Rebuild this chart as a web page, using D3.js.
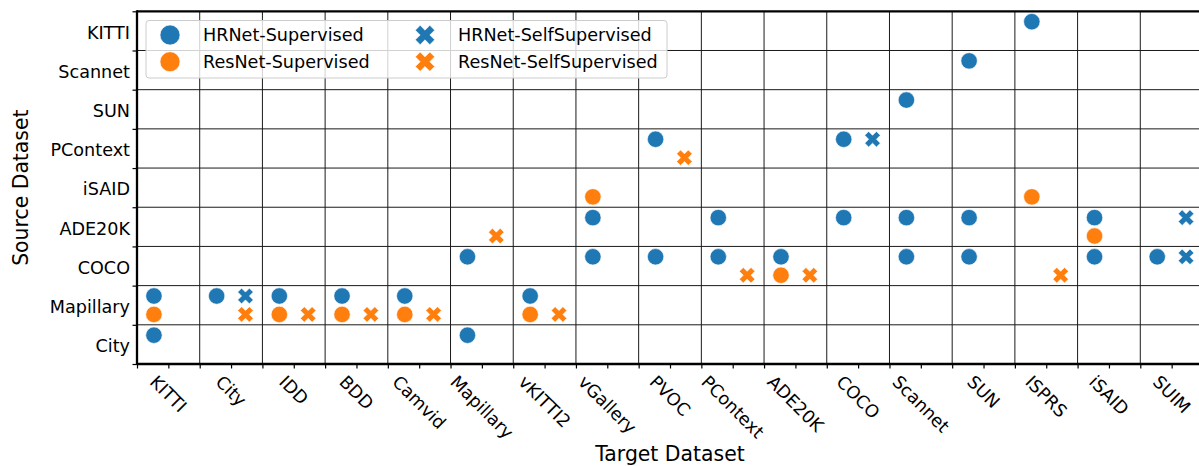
<!DOCTYPE html>
<html>
<head>
<meta charset="utf-8">
<script src="https://cdnjs.cloudflare.com/ajax/libs/d3/7.8.5/d3.min.js"></script>
<style>
  body { margin: 0; background: #fff; }
  svg { display: block; font-family: "DejaVu Sans", sans-serif; }
</style>
</head>
<body>
<svg id="chart" width="1199" height="466"></svg>
<script>
// categories
var targets = ["KITTI", "City", "IDD", "BDD", "Camvid", "Mapillary", "vKITTI2", "vGallery", "PVOC",
  "PContext", "ADE20K", "COCO", "Scannet", "SUN", "ISPRS", "iSAID", "SUIM"];
var sources = ["City", "Mapillary", "COCO", "ADE20K", "iSAID", "PContext", "SUN", "Scannet", "KITTI"]; // bottom -> top

// [target, source] pairs per series
var hrnetSupervised = [["KITTI", "Mapillary"], ["KITTI", "City"], ["City", "Mapillary"], ["IDD", "Mapillary"],
  ["BDD", "Mapillary"], ["Camvid", "Mapillary"], ["Mapillary", "COCO"], ["Mapillary", "City"],
  ["vKITTI2", "Mapillary"], ["vGallery", "ADE20K"], ["vGallery", "COCO"], ["PVOC", "PContext"],
  ["PVOC", "COCO"], ["PContext", "ADE20K"], ["PContext", "COCO"], ["ADE20K", "COCO"], ["COCO", "ADE20K"],
  ["COCO", "PContext"], ["Scannet", "SUN"], ["Scannet", "ADE20K"], ["Scannet", "COCO"], ["SUN", "Scannet"],
  ["SUN", "ADE20K"], ["SUN", "COCO"], ["ISPRS", "KITTI"], ["iSAID", "ADE20K"], ["iSAID", "COCO"], ["SUIM", "COCO"]];
var resnetSupervised = [["KITTI", "Mapillary"], ["IDD", "Mapillary"], ["BDD", "Mapillary"], ["Camvid", "Mapillary"],
  ["vKITTI2", "Mapillary"], ["vGallery", "iSAID"], ["ADE20K", "COCO"], ["ISPRS", "iSAID"], ["iSAID", "ADE20K"]];
var hrnetSelf = [["City", "Mapillary"], ["COCO", "PContext"], ["SUIM", "ADE20K"], ["SUIM", "COCO"]];
var resnetSelf = [["City", "Mapillary"], ["IDD", "Mapillary"], ["BDD", "Mapillary"], ["Camvid", "Mapillary"],
  ["Mapillary", "ADE20K"], ["vKITTI2", "Mapillary"], ["PVOC", "PContext"], ["PContext", "COCO"],
  ["ADE20K", "COCO"], ["ISPRS", "COCO"]];

var blue = "#1f77b4", orange = "#ff7f0e";
var series = [
  { name: "HRNet-Supervised", data: hrnetSupervised, color: blue, shape: "circle", dx: -1, dy: -1 },
  { name: "ResNet-Supervised", data: resnetSupervised, color: orange, shape: "circle", dx: -1, dy: 1 },
  { name: "HRNet-SelfSupervised", data: hrnetSelf, color: blue, shape: "x", dx: 1, dy: -1 },
  { name: "ResNet-SelfSupervised", data: resnetSelf, color: orange, shape: "x", dx: 1, dy: 1 }
];

var plotL = 137, plotR = 1203, plotT = 11.3, plotB = 364;
var svg = d3.select("#chart");

var x = d3.scaleBand().domain(targets).range([plotL, plotR]).padding(0);
var y = d3.scaleBand().domain(sources.slice().reverse()).range([plotT, plotB]).padding(0);
var xl = d3.scaleLinear().domain([0, targets.length]).range([plotL, plotR]);
var yl = d3.scaleLinear().domain([0, sources.length]).range([plotB, plotT]);

// X marker path (matplotlib "X")
function xPath(size) {
  var a = size / 2, b = size / 6;
  var pts = [[b, a], [b, b], [a, b], [a, -b], [b, -b], [b, -a], [-b, -a], [-b, -b], [-a, -b], [-a, b], [-b, b], [-b, a]];
  var c = Math.SQRT1_2;
  return "M" + pts.map(function (p) { return [(p[0] - p[1]) * c, (p[0] + p[1]) * c].join(","); }).join("L") + "Z";
}

// grid
var grid = svg.append("g").attr("stroke", "#1a1a1a").attr("stroke-width", 1);
d3.range(1, targets.length).forEach(function (i) {
  grid.append("line").attr("x1", xl(i)).attr("x2", xl(i)).attr("y1", plotT).attr("y2", plotB);
});
d3.range(1, sources.length).forEach(function (i) {
  grid.append("line").attr("x1", plotL).attr("x2", plotR).attr("y1", yl(i)).attr("y2", yl(i));
});

// axes ticks
var fs = 17.6;
svg.append("g").attr("transform", "translate(0," + plotB + ")")
  .call(d3.axisBottom(xl).tickValues(d3.range(0, targets.length + 0.01, 0.5)).tickSize(4.5).tickFormat(""))
  .call(function (g) { g.select(".domain").remove(); g.selectAll("line").attr("stroke", "#000").attr("stroke-width", 1.2); });
svg.append("g").attr("transform", "translate(" + plotL + ",0)")
  .call(d3.axisLeft(yl).tickValues(d3.range(0, sources.length + 1)).tickSize(4.5).tickFormat(""))
  .call(function (g) { g.select(".domain").remove(); g.selectAll("line").attr("stroke", "#000").attr("stroke-width", 1.2); });

// y tick labels
svg.append("g").selectAll("text").data(sources).enter().append("text")
  .attr("x", 130).attr("y", function (d) { return y(d) + y.bandwidth() / 2 + 7.8; })
  .attr("text-anchor", "end").attr("font-size", fs).attr("fill", "#000")
  .text(function (d) { return d; });

// x tick labels rotated 45 deg, bbox centered on tick
var xlab = svg.append("g").selectAll("text").data(targets).enter().append("text")
  .attr("text-anchor", "middle").attr("font-size", fs).attr("fill", "#000").attr("dy", "0.346em")
  .text(function (d) { return d; });
xlab.each(function (d) {
  var w = this.getComputedTextLength(), h = fs * 1.164;
  var s = (w + h) / Math.SQRT2;
  var cx = x(d) + x.bandwidth() / 2, cy = 371.5 + s / 2;
  d3.select(this).attr("x", cx).attr("y", cy).attr("transform", "rotate(45," + cx + "," + cy + ")");
});

// points
series.forEach(function (s) {
  var g = svg.append("g");
  g.selectAll("path").data(s.data).enter().append("path")
    .attr("fill", s.color).attr("stroke", "#fff").attr("stroke-width", 0.6)
    .attr("transform", function (d) {
      var px = x(d[0]) + x.bandwidth() * (0.5 + s.dx * 0.23);
      var py = y(d[1]) + y.bandwidth() * (0.5 + s.dy * 0.235);
      return "translate(" + px + "," + py + ")";
    })
    .attr("d", s.shape === "circle" ? d3.symbol(d3.symbolCircle, Math.PI * 8.2 * 8.2)() : xPath(16.5));
});

// spines
var sp = svg.append("g").attr("stroke", "#000").attr("stroke-width", 2.3).attr("fill", "none");
sp.append("line").attr("x1", plotL).attr("x2", plotL).attr("y1", plotT - 1.1).attr("y2", plotB + 1.1);
sp.append("line").attr("x1", plotL).attr("x2", plotR + 2).attr("y1", plotB).attr("y2", plotB);
sp.append("line").attr("x1", plotL).attr("x2", plotR + 2).attr("y1", plotT).attr("y2", plotT);

// axis titles
svg.append("text").attr("x", (plotL + plotR) / 2).attr("y", 461).attr("text-anchor", "middle")
  .attr("font-size", 20.4).text("Target Dataset");
svg.append("text").attr("transform", "translate(28," + (plotT + plotB) / 2 + ") rotate(-90)")
  .attr("text-anchor", "middle").attr("font-size", 20.4).text("Source Dataset");

// legend
var lg = svg.append("g");
lg.append("rect").attr("x", 146).attr("y", 20.5).attr("width", 521).attr("height", 57.5).attr("rx", 3)
  .attr("fill", "#fff").attr("fill-opacity", 0.8).attr("stroke", "#cccccc").attr("stroke-width", 1);
var lpos = [[170, 35, 203], [170, 61.7, 203], [425, 35, 458], [425, 61.7, 458]];
series.forEach(function (s, i) {
  var p = lpos[i];
  lg.append("path").attr("transform", "translate(" + p[0] + "," + p[1] + ")")
    .attr("fill", s.color).attr("stroke", "#fff").attr("stroke-width", 0.6)
    .attr("d", s.shape === "circle" ? d3.symbol(d3.symbolCircle, Math.PI * 10 * 10)() : xPath(20.5));
  lg.append("text").attr("x", p[2]).attr("y", p[1] + 5.8).attr("font-size", fs).text(s.name);
});
</script>
</body>
</html>
